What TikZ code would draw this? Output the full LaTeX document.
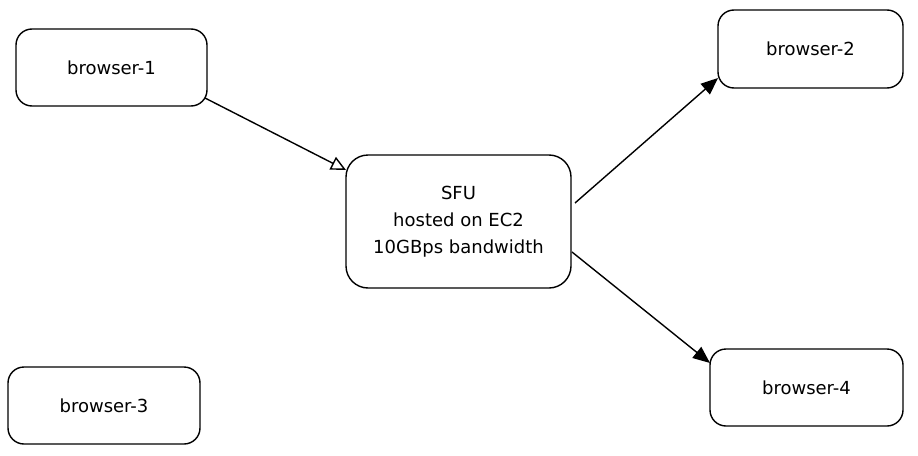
\documentclass[tikz,border=0pt]{standalone}
\usepackage{fontspec}
\setmainfont{DejaVu Sans}
\usetikzlibrary{arrows.meta}
\tikzset{
  boxnode/.style={draw=black, line width=1.4pt, rounded corners=16pt, fill=white, align=center, font=\fontsize{18}{27}\selectfont, inner sep=0pt},
  conn/.style={line width=1.4pt, draw=black},
}
\begin{document}
\begin{tikzpicture}[x=1pt,y=-1pt]
\useasboundingbox[fill=white] (0,0) rectangle (918,455);
\node[boxnode, minimum width=191pt, minimum height=77pt] (b1) at (111.5,67.5) {browser-1};
\node[boxnode, minimum width=185pt, minimum height=78pt] (b2) at (810.5,49) {browser-2};
\node[boxnode, minimum width=225pt, minimum height=133pt, rounded corners=22pt] (sfu) at (458.5,221.5) {SFU\\hosted on EC2\\10GBps bandwidth};
\node[boxnode, minimum width=192pt, minimum height=77pt] (b3) at (104,405.5) {browser-3};
\node[boxnode, minimum width=193pt, minimum height=77pt] (b4) at (806.5,387.5) {browser-4};
\coordinate (s1) at (205,98);
\coordinate (e1) at (346,170);
\draw[conn, -{Triangle[open, length=15pt, width=14pt]}] (s1) -- (e1);
\coordinate (s2) at (575,203);
\coordinate (e2) at (718,78);
\draw[conn, -{Triangle[length=17pt, width=14pt]}] (s2) -- (e2);
\coordinate (s3) at (572,252);
\coordinate (e3) at (710,363);
\draw[conn, -{Triangle[length=17pt, width=14pt]}] (s3) -- (e3);
\end{tikzpicture}
\end{document}
